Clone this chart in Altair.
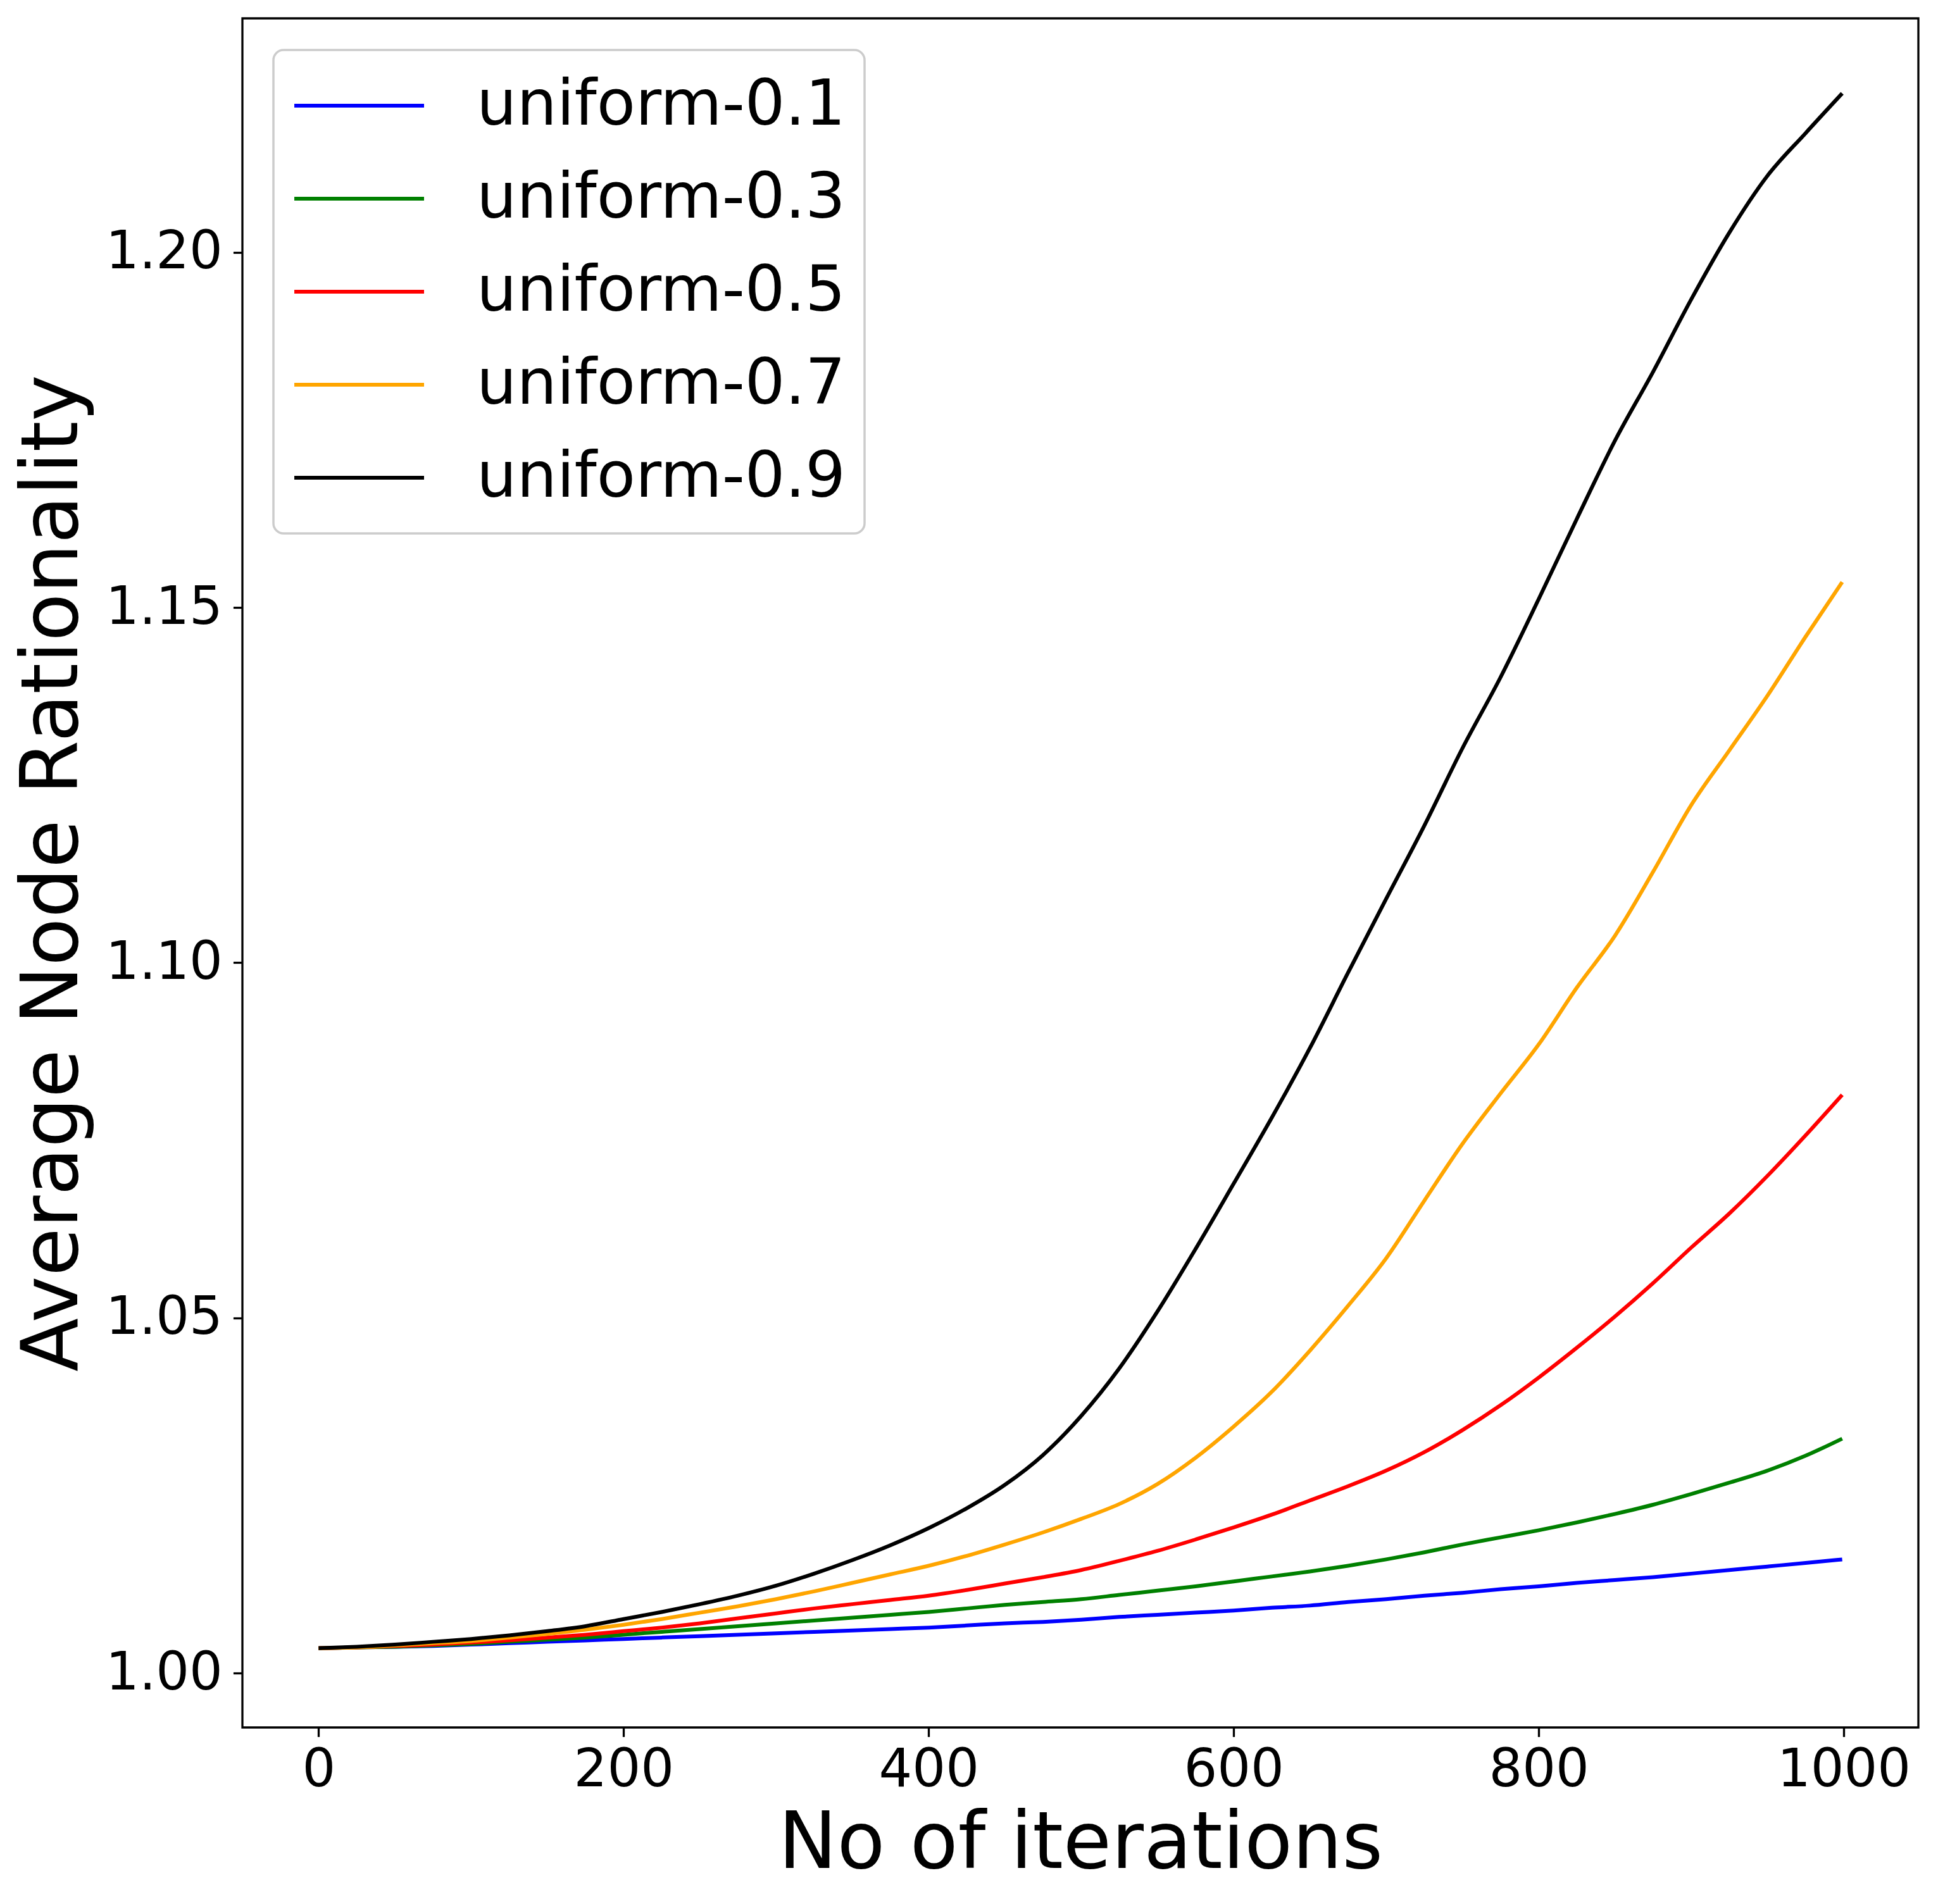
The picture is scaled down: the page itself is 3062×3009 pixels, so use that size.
import altair as alt
import pandas as pd

iterations = [0, 25, 50, 75, 100, 125, 150, 175, 200, 225, 250, 275, 300, 325, 350, 375,
              400, 425, 450, 475, 500, 525, 550, 575, 600, 625, 650, 675, 700, 725, 750,
              775, 800, 825, 850, 875, 900, 925, 950, 975, 999]

series_names = ["uniform-0.1", "uniform-0.3", "uniform-0.5", "uniform-0.7", "uniform-0.9"]
series_colors = ["#0000ff", "#008000", "#ff0000", "#ffa500", "#000000"]

u01 = [1.0035, 1.0036, 1.0037, 1.0038, 1.0040, 1.0042, 1.0044, 1.0046, 1.0048, 1.0050,
       1.0052, 1.0054, 1.0056, 1.0058, 1.0060, 1.0062, 1.0064, 1.0067, 1.0070, 1.0072,
       1.0075, 1.0079, 1.0082, 1.0085, 1.0088, 1.0092, 1.0095, 1.0100, 1.0104, 1.0109,
       1.0113, 1.0118, 1.0122, 1.0127, 1.0131, 1.0135, 1.0140, 1.0145, 1.0150, 1.0155, 1.0160]
u03 = [1.0035, 1.0036, 1.0037, 1.0039, 1.0041, 1.0044, 1.0047, 1.0050, 1.0054, 1.0058,
       1.0062, 1.0066, 1.0070, 1.0074, 1.0078, 1.0082, 1.0086, 1.0091, 1.0096, 1.0100,
       1.0104, 1.0110, 1.0116, 1.0122, 1.0129, 1.0136, 1.0143, 1.0151, 1.0160, 1.0170,
       1.0181, 1.0191, 1.0201, 1.0212, 1.0224, 1.0237, 1.0252, 1.0268, 1.0285, 1.0306, 1.0330]
u05 = [1.0035, 1.0036, 1.0038, 1.0040, 1.0043, 1.0046, 1.0050, 1.0054, 1.0059, 1.0064,
       1.0070, 1.0077, 1.0084, 1.0091, 1.0097, 1.0103, 1.0109, 1.0117, 1.0126, 1.0135,
       1.0145, 1.0158, 1.0172, 1.0188, 1.0205, 1.0223, 1.0243, 1.0263, 1.0285, 1.0311,
       1.0342, 1.0377, 1.0416, 1.0458, 1.0502, 1.0549, 1.0599, 1.0647, 1.0700, 1.0757, 1.0814]
u07 = [1.0035, 1.0036, 1.0039, 1.0042, 1.0045, 1.0050, 1.0055, 1.0061, 1.0068, 1.0076,
       1.0085, 1.0094, 1.0104, 1.0115, 1.0127, 1.0139, 1.0151, 1.0165, 1.0181, 1.0198,
       1.0217, 1.0238, 1.0266, 1.0303, 1.0347, 1.0396, 1.0454, 1.0517, 1.0584, 1.0665,
       1.0745, 1.0816, 1.0885, 1.0965, 1.1038, 1.1128, 1.1222, 1.1299, 1.1376, 1.1459, 1.1536]
u09 = [1.0035, 1.0037, 1.0040, 1.0044, 1.0048, 1.0053, 1.0059, 1.0066, 1.0076, 1.0086,
       1.0097, 1.0109, 1.0123, 1.0140, 1.0159, 1.0180, 1.0204, 1.0232, 1.0265, 1.0307,
       1.0362, 1.0429, 1.0509, 1.0597, 1.0689, 1.0782, 1.0880, 1.0986, 1.1090, 1.1193,
       1.1302, 1.1402, 1.1512, 1.1625, 1.1735, 1.1832, 1.1934, 1.2028, 1.2108, 1.2168, 1.2224]

x_ticks = [0, 200, 400, 600, 800, 1000]
y_ticks = [1.00, 1.05, 1.10, 1.15, 1.20]

rows = []
for name, vals in zip(series_names, [u01, u03, u05, u07, u09]):
    for it, v in zip(iterations, vals):
        rows.append({"iteration": it, "value": v, "series": name})
df = pd.DataFrame(rows)

FONT = "DejaVu Sans"

chart = alt.Chart(df).mark_line(strokeWidth=6, interpolate="monotone").encode(
    x=alt.X("iteration:Q",
            scale=alt.Scale(domain=[-49.95, 1048.95], nice=False, zero=False),
            axis=alt.Axis(title="No of iterations", values=x_ticks, format="d",
                          grid=False, domain=False, tickSize=14.6, tickWidth=3.3,
                          tickColor="black", labelFontSize=83, labelFont=FONT,
                          labelColor="black", labelPadding=12, labelFlush=False,
                          labelLimit=0, labelOverlap=False,
                          titleFontSize=124, titleFont=FONT, titleFontWeight="normal",
                          titleColor="black", titlePadding=14)),
    y=alt.Y("value:Q",
            scale=alt.Scale(domain=[0.99234, 1.23296], nice=False, zero=False),
            axis=alt.Axis(title="Average Node Rationality", values=y_ticks, format=".2f",
                          grid=False, domain=False, tickSize=14.6, tickWidth=3.3,
                          tickColor="black", labelFontSize=83, labelFont=FONT,
                          labelColor="black", labelPadding=17, labelFlush=False,
                          labelLimit=0, labelOverlap=False,
                          titleFontSize=124, titleFont=FONT, titleFontWeight="normal",
                          titleColor="black", titlePadding=36)),
    color=alt.Color("series:N",
                    scale=alt.Scale(domain=series_names, range=series_colors),
                    legend=alt.Legend(title=None, orient="none", legendX=49, legendY=50,
                                      symbolType="stroke", symbolSize=42025,
                                      symbolStrokeWidth=6, labelFontSize=100,
                                      labelFont=FONT, labelColor="black", labelLimit=0,
                                      labelOffset=80, clipHeight=116, rowPadding=31,
                                      padding=30, strokeColor="#cccccc", fillColor="white",
                                      cornerRadius=16)),
    order=alt.Order("iteration:Q"),
).properties(
    width=2648,
    height=2701,
    padding={"left": 375, "top": 21, "right": 23, "bottom": 260},
    autosize=alt.AutoSizeParams(type="none"),
).configure(
    background="white"
).configure_view(
    stroke="black", strokeWidth=3.3
).configure_legend(
    strokeWidth=3.5
)

chart.save("out.html", embed_options={"renderer": "svg", "actions": False})
